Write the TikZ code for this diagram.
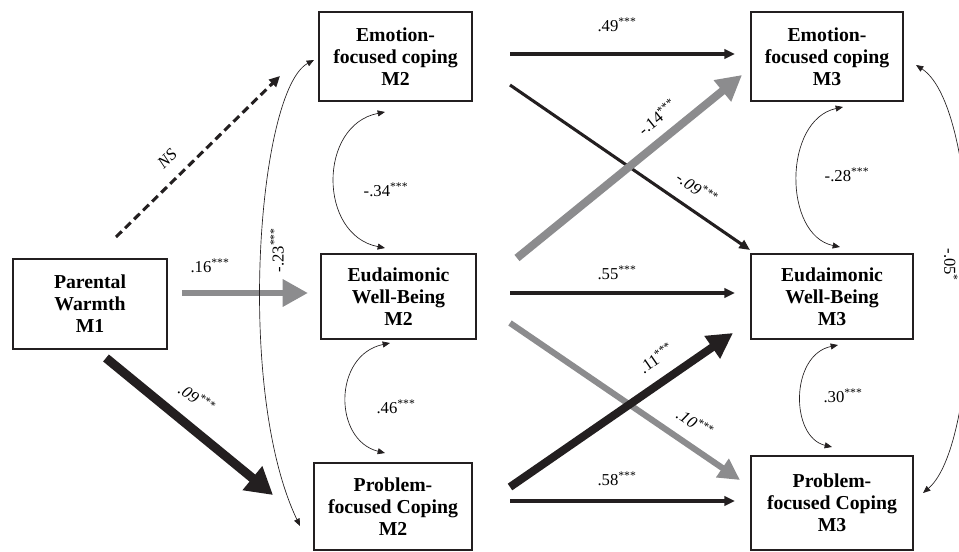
\documentclass[tikz,border=0pt]{standalone}
\usepackage{fontspec}
\setmainfont{Liberation Serif}
\usetikzlibrary{arrows.meta}
\definecolor{pblack}{RGB}{35,31,32}
\definecolor{pgray}{RGB}{140,140,142}
\begin{document}
\begin{tikzpicture}[x=0.75pt,y=-0.75pt,
  box/.style={draw=pblack,line width=1.4pt,align=center,inner sep=0pt,
    font=\fontsize{14.8}{16.5}\selectfont\bfseries},
  thinarr/.style={draw=pblack,line width=2.3pt,-{Triangle[length=8pt,width=7pt]}},
  grayarr/.style={draw=pgray,fill=pgray,line width=#1},
  blackarr/.style={draw=pblack,fill=pblack,line width=#1},
  cov/.style={draw=pblack,line width=0.5pt,
    {Triangle[length=5.5pt,width=4.5pt]}-{Triangle[length=5.5pt,width=4.5pt]}},
  lab/.style={inner sep=0pt,font=\fontsize{12.5}{14}\selectfont},
]
\useasboundingbox (0,0) rectangle (959,552);

% boxes
\node[box,minimum width=115.5pt,minimum height=67.5pt] (pw) at (90,304) {Parental\\Warmth\\M1};
\node[box,minimum width=114.75pt,minimum height=66.75pt] (e2) at (395.5,56.5) {Emotion-\\focused coping\\M2};
\node[box,minimum width=116.25pt,minimum height=63.75pt] (w2) at (398.5,296.5) {Eudaimonic\\Well-Being\\M2};
\node[box,minimum width=118.5pt,minimum height=65.25pt] (p2) at (393,506.5) {Problem-\\focused Coping\\M2};
\node[box,minimum width=114pt,minimum height=66.75pt] (e3) at (827,56.5) {Emotion-\\focused coping\\M3};
\node[box,minimum width=121.5pt,minimum height=63.75pt] (w3) at (832,296.5) {Eudaimonic\\Well-Being\\M3};
\node[box,minimum width=121.5pt,minimum height=70.5pt] (p3) at (832,503) {Problem-\\focused Coping\\M3};

% connector end points
\coordinate (ns1) at (116,237);  \coordinate (ns2) at (280,76);
\coordinate (a16s) at (182,293); \coordinate (a16e) at (308,293);
\coordinate (a09s) at (106,358); \coordinate (a09e) at (273,495);
\coordinate (a49s) at (510,54);  \coordinate (a49e) at (735,54);
\coordinate (a55s) at (510,293); \coordinate (a55e) at (735,293);
\coordinate (a58s) at (510,501); \coordinate (a58e) at (735,501);
\coordinate (m09s) at (510,85);  \coordinate (m09e) at (750,250);
\coordinate (m14s) at (517,258); \coordinate (m14e) at (742,75);
\coordinate (a10s) at (510,323); \coordinate (a10e) at (740,480);
\coordinate (a11s) at (510,487); \coordinate (a11e) at (733,333);
\coordinate (c23a) at (314,60);  \coordinate (c23b) at (300,526);
\coordinate (c34a) at (385,112); \coordinate (c34b) at (385,248);
\coordinate (c46a) at (390,343); \coordinate (c46b) at (385,453);
\coordinate (c28a) at (843,107); \coordinate (c28b) at (840,247);
\coordinate (c30a) at (838,345); \coordinate (c30b) at (832,447);
\coordinate (c05a) at (916,65);  \coordinate (c05b) at (923,493);

% paths from M1
\draw[draw=pblack,line width=2.3pt,dash pattern=on 6pt off 3.5pt,
  -{Triangle[length=8pt,width=7.5pt]}] (ns1) -- (ns2);
\draw[grayarr=5.2pt,-{Triangle[length=19pt,width=19.5pt]}] (a16s) -- (a16e);
\draw[blackarr=6.8pt,-{Triangle[length=20pt,width=22pt]}] (a09s) -- (a09e);

% cross-lagged paths
\draw[thinarr] (m09s) -- (m09e);
\draw[grayarr=6pt,-{Triangle[length=19pt,width=19.5pt]}] (m14s) -- (m14e);
\draw[grayarr=4.6pt,-{Triangle[length=16pt,width=16pt]}] (a10s) -- (a10e);
\draw[blackarr=6pt,-{Triangle[length=19pt,width=19.5pt]}] (a11s) -- (a11e);

% autoregressive paths
\draw[thinarr] (a49s) -- (a49e);
\draw[thinarr] (a55s) -- (a55e);
\draw[thinarr] (a58s) -- (a58e);

% covariances
\draw[cov] (c23a) .. controls (258,90) and (235,390) .. (c23b);
\draw[cov] (c34a) .. controls (318,125) and (318,235) .. (c34b);
\draw[cov] (c46a) .. controls (333,355) and (333,440) .. (c46b);
\draw[cov] (c28a) .. controls (783,120) and (783,235) .. (c28b);
\draw[cov] (c30a) .. controls (790,355) and (790,437) .. (c30b);
\draw[cov] (c05a) .. controls (985,110) and (985,440) .. (c05b);

% labels
\node[lab,rotate=44] (lns) at (167,159) {\itshape NS};
\node[lab] (l16) at (210,266) {.16\textsuperscript{***}};
\node[lab,rotate=90] (l23) at (277,250) {-.23\textsuperscript{***}};
\node[lab,rotate=-35] (l09) at (197,398) {\itshape .09\textsuperscript{***}};
\node[lab] (l49) at (617,25) {.49\textsuperscript{***}};
\node[lab] (l55) at (617,273) {.55\textsuperscript{***}};
\node[lab] (l58) at (617,479) {.58\textsuperscript{***}};
\node[lab,rotate=39] (l14) at (657,117) {-.14\textsuperscript{***}};
\node[lab,rotate=-34.5] (lm09) at (697,188) {\itshape -.09\textsuperscript{***}};
\node[lab,rotate=34.6] (l11) at (656,358) {.11\textsuperscript{***}};
\node[lab,rotate=-34] (l10) at (695,423) {\itshape .10\textsuperscript{***}};
\node[lab] (l34) at (386,190) {-.34\textsuperscript{***}};
\node[lab] (l46) at (396,407) {.46\textsuperscript{***}};
\node[lab] (l28) at (847,175) {-.28\textsuperscript{***}};
\node[lab] (l30) at (843,396) {.30\textsuperscript{***}};
\node[lab,rotate=-90] (l05) at (951,265) {-.05\textsuperscript{*}};
\end{tikzpicture}
\end{document}
